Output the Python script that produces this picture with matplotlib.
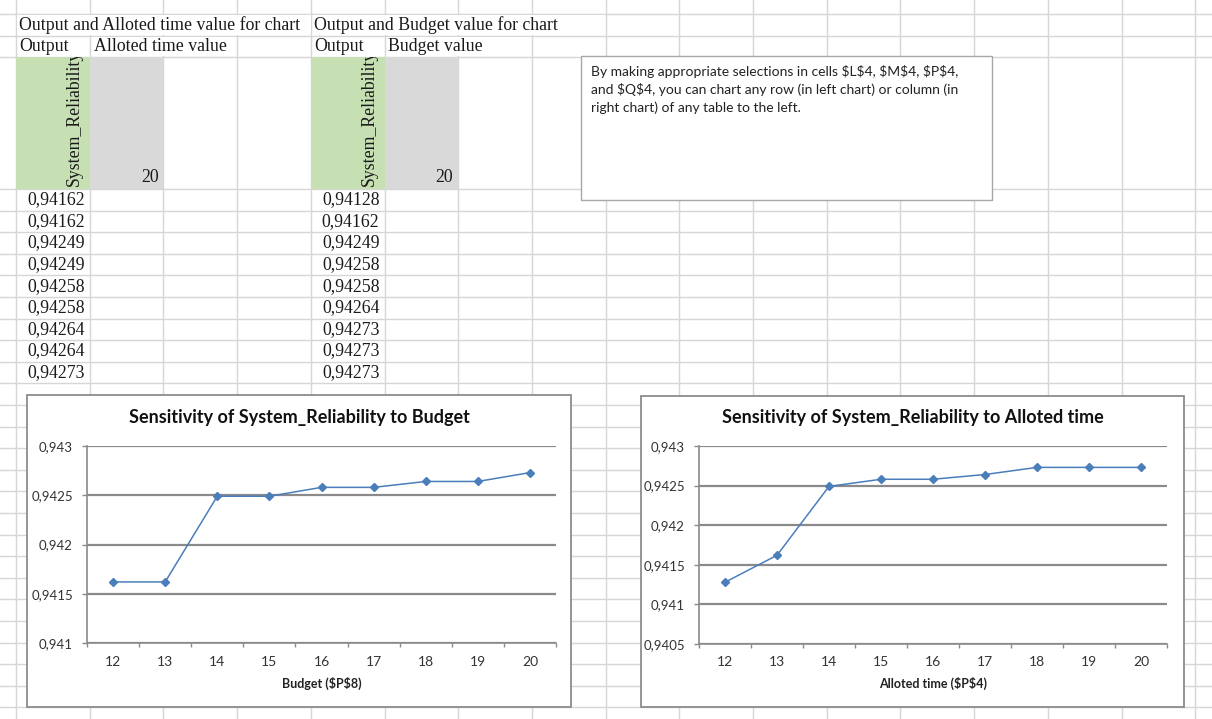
import matplotlib
matplotlib.use("Agg")
import matplotlib.pyplot as plt
from matplotlib.patches import Rectangle
from matplotlib.transforms import Bbox, TransformedBbox

plt.rcParams["font.family"] = ["Lato", "DejaVu Sans"]

W, H = 1212, 719

# ---- data read from the sheet / charts ----
budget = [12, 13, 14, 15, 16, 17, 18, 19, 20]
alloted_time = [12, 13, 14, 15, 16, 17, 18, 19, 20]
rel_vs_budget = [0.94162, 0.94162, 0.94249, 0.94249, 0.94258, 0.94258, 0.94264, 0.94264, 0.94273]
rel_vs_time = [0.94128, 0.94162, 0.94249, 0.94258, 0.94258, 0.94264, 0.94273, 0.94273, 0.94273]
budget_yticks = [0.941, 0.9415, 0.942, 0.9425, 0.943]
time_yticks = [0.9405, 0.941, 0.9415, 0.942, 0.9425, 0.943]
selected_value = 20

table_titles = ["Output and Alloted time value for chart", "Output and Budget value for chart"]
table_headers = [("Output", "Alloted time value"), ("Output", "Budget value")]
output_name = "System_Reliability"
note_lines = [
    "By making appropriate selections in cells $L$4, $M$4, $P$4,",
    "and $Q$4, you can chart any row (in left chart) or column (in",
    "right chart) of any table to the left.",
]

# ---- sheet geometry (pixels) ----
col_x = [16 + 73.7 * k for k in range(17)]
row_y = [14, 36, 57] + [189 + 21.6 * k for k in range(25)]
GRID = "#d6d6d6"
GREEN = "#c6e0b4"
GREY = "#d9d9d9"
FRAME = "#8c8c8c"
LINE = "#4a7ebb"
SERIF = ["Liberation Serif", "DejaVu Serif"]
CELL_FS = 12.8

fig = plt.figure(figsize=(W / 100, H / 100), dpi=100)
bg = fig.add_axes([0, 0, 1, 1])
bg.set_xlim(0, W)
bg.set_ylim(H, 0)
bg.axis("off")

# spreadsheet grid
for x in col_x:
    bg.plot([x, x], [0, H], color=GRID, lw=1, zorder=1)
for y in row_y:
    bg.plot([0, W], [y, y], color=GRID, lw=1, zorder=1)

# overflow text hides inner cell borders
for x0, x1, y0, y1 in [(17, 311, 15, 35), (313, 605, 15, 35), (92, 236, 37, 56), (387, 531, 37, 56)]:
    bg.add_patch(Rectangle((x0, y0), x1 - x0, y1 - y0, facecolor="white", edgecolor="none", zorder=1.5))

cell_h = 21.6
for t, c0 in enumerate([0, 4]):
    xa, xb, xc = col_x[c0], col_x[c0 + 1], col_x[c0 + 2]
    bg.text(xa + 3, 25, table_titles[t], fontsize=CELL_FS, family=SERIF, va="center", zorder=3, color="#1a1a1a")
    bg.text(xa + 3, 46.5, table_headers[t][0], fontsize=CELL_FS, family=SERIF, va="center", zorder=3, color="#1a1a1a")
    bg.text(xb + 4, 46.5, table_headers[t][1], fontsize=CELL_FS, family=SERIF, va="center", zorder=3, color="#1a1a1a")
    bg.add_patch(Rectangle((xa, 57), xb - xa, 132, facecolor=GREEN, edgecolor="none", zorder=2))
    bg.add_patch(Rectangle((xb, 57), xc - xb, 132, facecolor=GREY, edgecolor="none", zorder=2))
    name = bg.text(xb - 15, 186, output_name, fontsize=CELL_FS, family=SERIF, rotation=90,
                   ha="center", va="bottom", zorder=3, color="#1a1a1a")
    name.set_clip_box(TransformedBbox(Bbox([[xa, 57], [xb, 189]]), bg.transData))
    name.set_clip_on(True)
    bg.text(xc - 5, 177, str(selected_value), fontsize=CELL_FS, family=SERIF, ha="right",
            va="center", zorder=3, color="#1a1a1a")
    vals = rel_vs_budget if t == 0 else rel_vs_time
    for i, v in enumerate(vals):
        bg.text(xb - 5, 189 + cell_h * (i + 0.5), f"{v:.5f}".replace(".", ","), fontsize=CELL_FS,
                family=SERIF, ha="right", va="center", zorder=3, color="#1a1a1a")

# note text box
bg.add_patch(Rectangle((581, 56), 411, 144, facecolor="white", edgecolor="#a8a8a8", lw=1, zorder=4))
for i, line in enumerate(note_lines):
    bg.text(591, 72 + 18 * i, line, fontsize=10, va="center", zorder=5, parse_math=False, color="#222222")


def px_axes(x0, y0, x1, y1):
    return fig.add_axes([x0 / W, 1 - y1 / H, (x1 - x0) / W, (y1 - y0) / H])


def fmt(v):
    return f"{v:.4f}".rstrip("0").replace(".", ",")


def sens_chart(frame, plot_box, xs, ys, yticks, title, xlabel):
    fx0, fy0, fx1, fy1 = frame
    bg.add_patch(Rectangle((fx0, fy0), fx1 - fx0, fy1 - fy0, facecolor="white",
                           edgecolor=FRAME, lw=1.3, zorder=5))
    bg.text((fx0 + fx1) / 2, 418, title, fontsize=13, fontweight="bold", ha="center",
            va="center", zorder=6, color="#111111")
    px0, py0, px1, py1 = plot_box
    bg.text((px0 + px1) / 2, 683, xlabel, fontsize=9, fontweight="bold", ha="center",
            va="center", zorder=6, parse_math=False, color="#222222")
    ax = px_axes(*plot_box)
    ax.set_zorder(3)
    ax.patch.set_visible(False)
    pos = list(range(len(xs)))
    ax.plot(pos, ys, color=LINE, lw=1.1, marker="D", ms=4.5, zorder=3)
    ax.set_xlim(-0.5, len(xs) - 0.5)
    ax.set_ylim(yticks[0], yticks[-1])
    ax.set_yticks(yticks)
    ax.set_yticklabels([fmt(v) for v in yticks])
    ax.set_xticks(pos)
    ax.set_xticklabels([str(x) for x in xs])
    ax.set_xticks([p - 0.5 for p in pos] + [len(xs) - 0.5], minor=True)
    ax.yaxis.grid(True, color="#8a8a8a", lw=1.6)
    ax.set_axisbelow(True)
    for s in ["top", "right"]:
        ax.spines[s].set_visible(False)
    for s in ["left", "bottom"]:
        ax.spines[s].set_color("#8a8a8a")
        ax.spines[s].set_linewidth(1.2)
    ax.tick_params(axis="y", direction="out", length=3.6, width=1, color="#8a8a8a",
                   labelsize=9.5, pad=6.5, labelcolor="#333333")
    ax.tick_params(axis="x", which="major", length=0, labelsize=10, pad=9, labelcolor="#333333")
    ax.tick_params(axis="x", which="minor", direction="out", length=3.2, width=1, color="#8a8a8a")
    return ax


sens_chart((27, 395, 571, 707), (87, 446, 556, 643), budget, rel_vs_budget, budget_yticks,
           "Sensitivity of System_Reliability to Budget", "Budget ($P$8)")
sens_chart((641, 396, 1184, 707), (699, 446, 1167, 644), alloted_time, rel_vs_time, time_yticks,
           "Sensitivity of System_Reliability to Alloted time", "Alloted time ($P$4)")

fig.savefig("out.png", dpi=100, facecolor="white")
